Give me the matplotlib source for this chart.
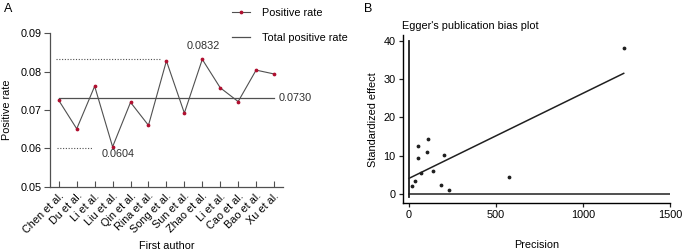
import matplotlib.pyplot as plt

plt.rcParams['font.family'] = ['Liberation Sans', 'DejaVu Sans']
plt.rcParams['font.size'] = 7.8

# Panel A data
authors = ["Chen et al.", "Du et al.", "Li et al.", "Liu et al.", "Qin et al.",
           "Rina et al.", "Song et al.", "Sun et al.", "Zhao et al.", "Li et al.",
           "Cao et al.", "Bao et al.", "Xu et al."]
positive_rate = [0.0725, 0.0651, 0.0762, 0.0604, 0.0720, 0.0660, 0.0828,
                 0.0692, 0.0832, 0.0758, 0.0722, 0.0804, 0.0794]
total_rate = 0.0730
max_rate = 0.0832
min_rate = 0.0604

# Panel B data (Egger's test)
precision = [15, 36, 50, 50, 67, 111, 103, 138, 203, 184, 230, 573, 1234]
std_effect = [2.0, 3.4, 12.6, 9.4, 5.4, 14.4, 11.1, 5.9, 10.1, 2.35, 0.96, 4.35, 38.2]
egger_intercept = 4.1
egger_slope = 0.0222

W, H = 685, 250
fig = plt.figure(figsize=(W / 100, H / 100), dpi=100)

# ---------------- Panel A ----------------
axA = fig.add_axes([50 / W, 1 - 186.7 / H, (283 - 50) / W, (186.7 - 33.3) / H])
xs = list(range(len(authors)))
axA.plot(xs, positive_rate, color="#505050", lw=0.8, marker="o", ms=1.7,
         mfc="#b01030", mec="#b01030", label="Positive rate")
axA.plot([xs[0], xs[-1]], [total_rate, total_rate], color="#505050", lw=0.9,
         label="Total positive rate")
# dotted guides for max / min
axA.plot([-0.15, 5.65], [max_rate + 0.0002, max_rate + 0.0002], color="#505050",
         lw=0.8, ls=(0, (1, 1.5)))
axA.plot([-0.1, 1.9], [min_rate - 0.0004, min_rate - 0.0004], color="#505050",
         lw=0.8, ls=(0, (1, 1.5)))
axA.text(8.05, 0.0866, f"{max_rate:.4f}", ha="center", va="center", color="#303030")
axA.text(3.3, 0.0585, f"{min_rate:.4f}", ha="center", va="center", color="#303030")
axA.text(12.25, total_rate, f"{total_rate:.4f}", ha="left", va="center", color="#303030")

axA.set_xlim(-0.49, 12.5)
axA.set_ylim(0.05, 0.09)
axA.set_yticks([0.05, 0.06, 0.07, 0.08, 0.09])
axA.set_yticklabels(["0.05", "0.06", "0.07", "0.08", "0.09"])
axA.set_xticks(xs)
axA.set_xticklabels(authors, rotation=45, ha="right", rotation_mode="anchor")
axA.tick_params(axis="x", direction="in", length=4, width=0.8, color="#505050", pad=3)
axA.tick_params(axis="y", direction="out", length=4, width=0.8, color="#505050", pad=2)
for s in ["top", "right"]:
    axA.spines[s].set_visible(False)
for s in ["left", "bottom"]:
    axA.spines[s].set_color("#505050")
    axA.spines[s].set_linewidth(0.9)
axA.set_ylabel("Positive rate", labelpad=6)
axA.set_xlabel("First author", labelpad=4)
axA.legend(loc="upper left", bbox_to_anchor=(232 / W, 1 - 8 / H), bbox_transform=fig.transFigure,
           frameon=False, handlelength=1.7, labelspacing=1.35, handletextpad=1.1,
           borderaxespad=0, borderpad=0)
fig.text(4 / W, 1 - 9 / H, "A", fontsize=9, va="center", ha="left")

# ---------------- Panel B ----------------
axB = fig.add_axes([402.5 / W, 1 - 203.3 / H, (670 - 402.5) / W, (203.3 - 35) / H])
axB.scatter(precision, std_effect, s=3, color="#202020", zorder=3)
axB.plot([0, 1234], [egger_intercept, egger_intercept + egger_slope * 1234],
         color="#202020", lw=1.1)
axB.plot([0, 0], [-0.8, 40], color="#202020", lw=1.3)
axB.plot([0, 1500], [0, 0], color="#202020", lw=1.1)
axB.set_xlim(-37, 1500)
axB.set_ylim(-2.4, 41.5)
axB.set_xticks([0, 500, 1000, 1500])
axB.set_yticks([0, 10, 20, 30, 40])
axB.tick_params(direction="out", length=3, width=0.9, color="#202020", pad=2)
for s in ["top", "right"]:
    axB.spines[s].set_visible(False)
for s in ["left", "bottom"]:
    axB.spines[s].set_linewidth(1.0)
axB.set_ylabel("Standardized effect", labelpad=4)
axB.set_xlabel("Precision", labelpad=14)
fig.text(402.5 / W, 1 - 26 / H, "Egger's publication bias plot", ha="left", va="center")
fig.text(364 / W, 1 - 9 / H, "B", fontsize=9, va="center", ha="left")

fig.savefig("out.png", dpi=100)
